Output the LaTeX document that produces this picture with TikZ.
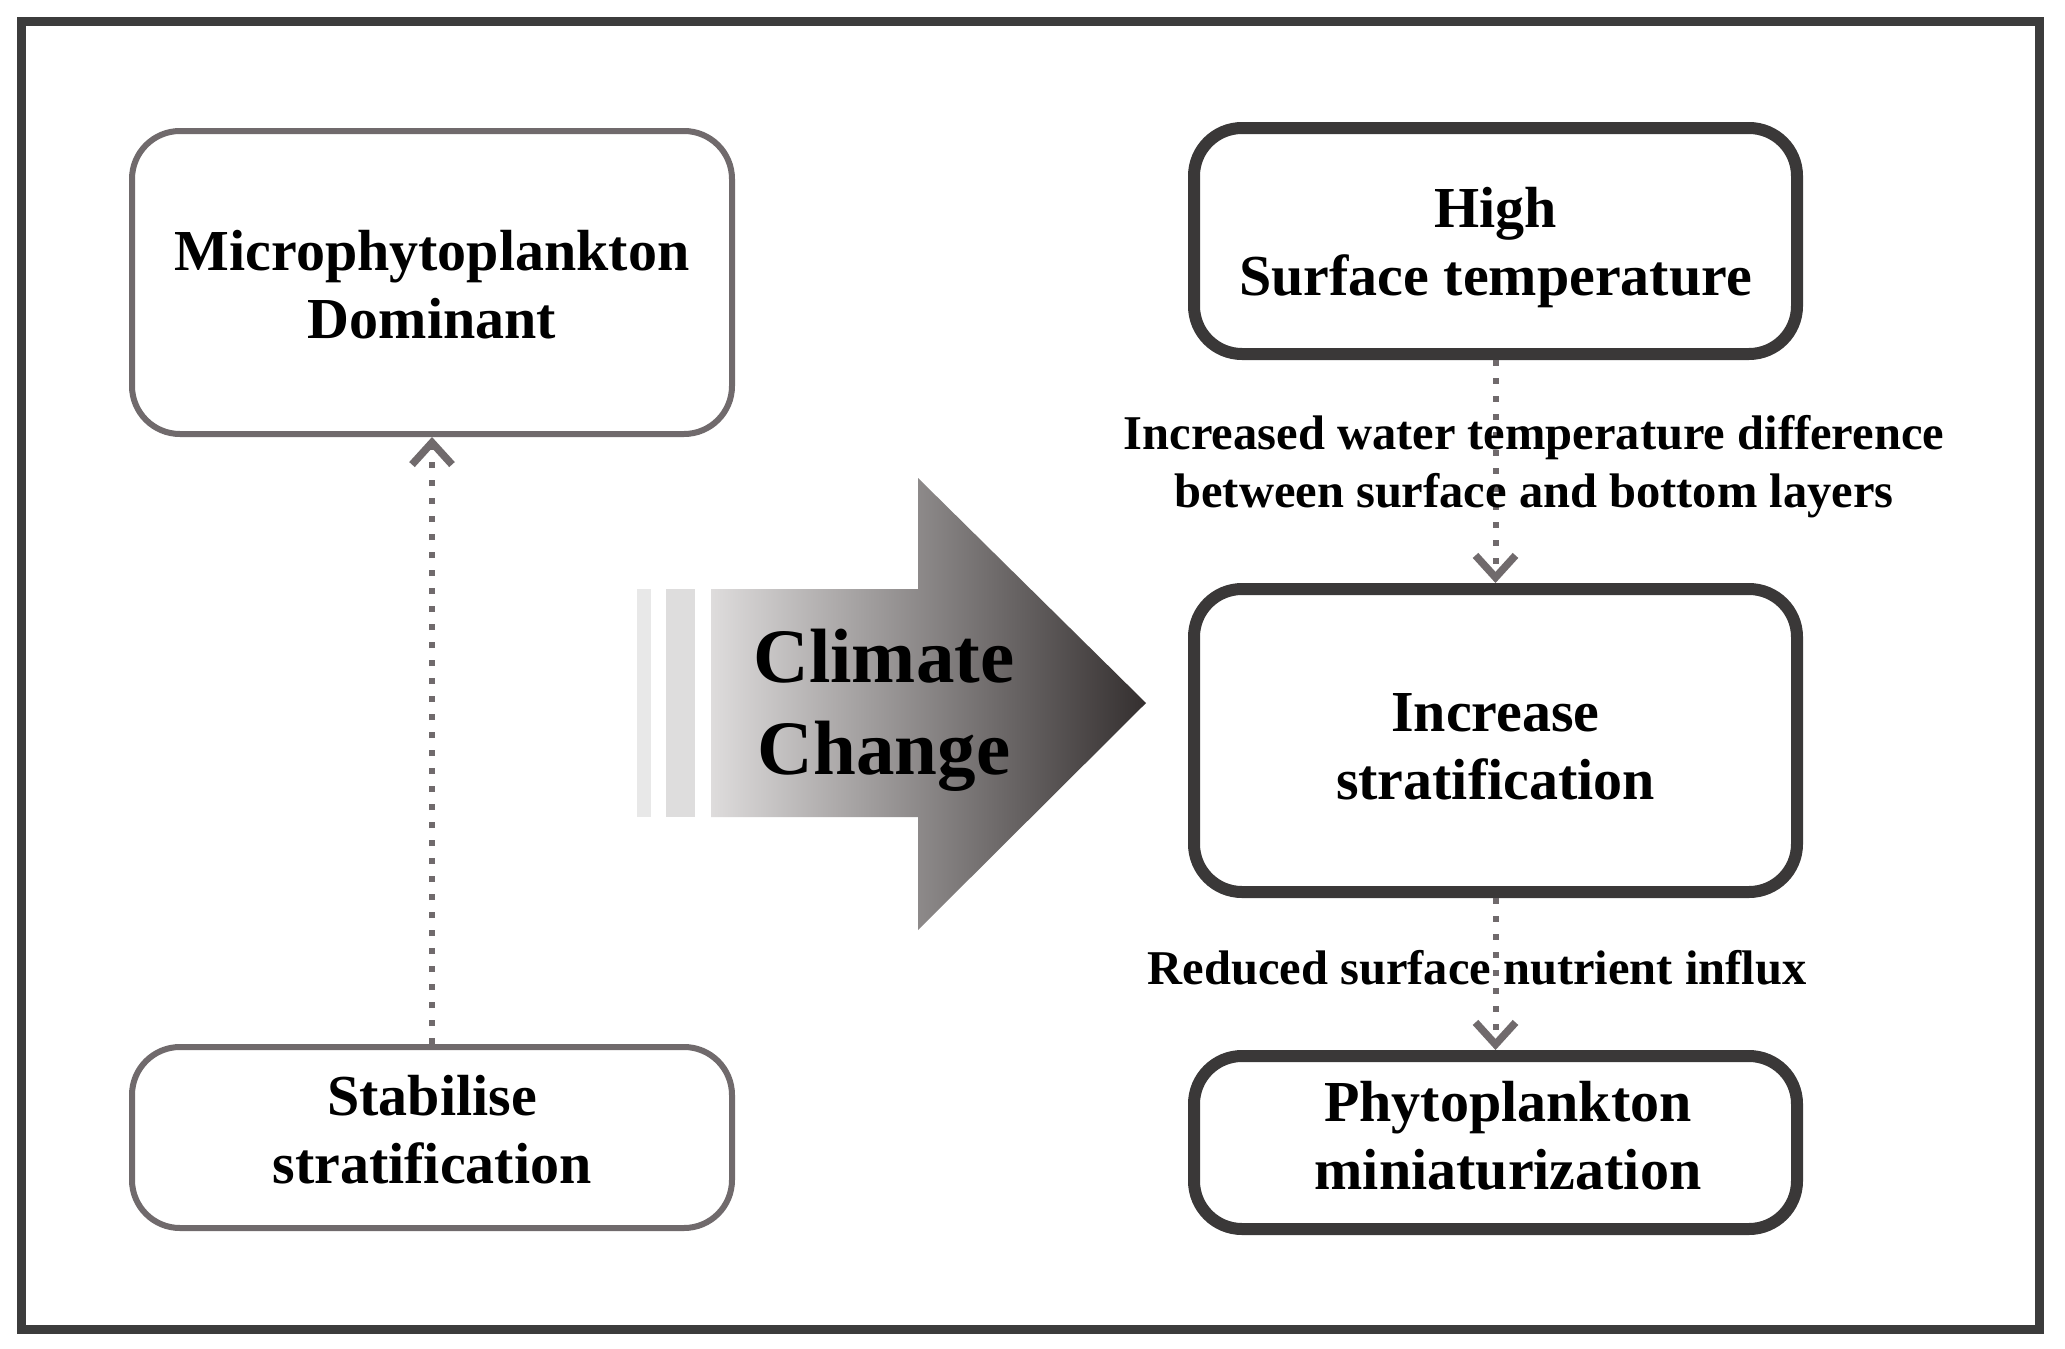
\documentclass[tikz,border=0pt]{standalone}
\usepackage{fontspec}
\setmainfont{Liberation Serif}
\usetikzlibrary{arrows.meta}
\definecolor{framec}{RGB}{60,60,60}
\definecolor{lboxc}{RGB}{112,106,108}
\definecolor{rboxc}{RGB}{58,56,56}
\definecolor{dotc}{RGB}{112,106,108}
\definecolor{ccL}{RGB}{222,220,220}
\definecolor{ccM}{RGB}{165,160,160}
\definecolor{ccR}{RGB}{52,47,47}
\definecolor{stripeA}{RGB}{232,232,232}
\definecolor{stripeB}{RGB}{222,221,221}
\begin{document}
\begin{tikzpicture}[x=1pt,y=-1pt,
  boxtext/.style={font=\bfseries\fontsize{58}{68}\selectfont, align=center, inner sep=0pt},
  lbox/.style={draw=lboxc, line width=6pt, rounded corners=48pt, minimum width=600pt, inner sep=0pt},
  rbox/.style={draw=rboxc, line width=12pt, rounded corners=48pt, minimum width=603pt, inner sep=0pt},
  lab/.style={font=\bfseries\fontsize{48.5}{58}\selectfont, align=center, inner sep=0pt},
  conn/.style={draw=dotc, line width=6pt, dash pattern=on 6pt off 12pt,
    -{Straight Barb[length=22pt,width=40pt,line width=7.5pt]}}]
\useasboundingbox (0,0) rectangle (2065,1349);
\fill[white] (0,0) rectangle (2065,1349);
\draw[framec, line width=9pt] (21,21) rectangle (2039,1329);

% left boxes
\node[lbox, minimum height=303pt] (mic) at (432,282.5) {};
\node[boxtext] (mict) at (432,285) {Microphytoplankton\\Dominant};
\node[lbox, minimum height=181pt] (stab) at (432,1137.5) {};
\node[boxtext] (stabt) at (432,1129.5) {Stabilise\\stratification};

% right boxes
\node[rbox, minimum height=226pt] (high) at (1495.5,241) {};
\node[boxtext] (hight) at (1495.5,248) {High\\Surface temperature};
\node[rbox, minimum height=303pt] (inc) at (1495.5,740.5) {};
\node[boxtext] (inct) at (1495.5,747) {Increase\\stratification};
\node[rbox, minimum height=173pt] (phy) at (1495.5,1142.5) {};
\node[boxtext] (phyt) at (1508,1136) {Phytoplankton\\miniaturization};

% connectors
\draw[conn] (stab.north) -- (mic.south);
\draw[conn] (high.south) -- (inc.north);
\draw[conn] (inc.south) -- (phy.north);

% labels
\node[lab] (lab1) at (1534,467) {Increased water temperature difference\\between surface and bottom layers};
\node[lab] (lab2) at (1477,968) {Reduced surface nutrient influx};

% climate change arrow
\fill[stripeA] (637,589) rectangle (651,817);
\fill[stripeB] (666,589) rectangle (695,817);
\shade[left color=ccL, middle color=ccM, right color=ccR]
  (711,589) -- (918,589) -- (918,478) -- (1146,703) -- (918,930) -- (918,817) -- (711,817) -- cycle;
\node[font=\bfseries\fontsize{77}{92}\selectfont, align=center, inner sep=0pt] (cc) at (884,710) {Climate\\Change};
\end{tikzpicture}
\end{document}
